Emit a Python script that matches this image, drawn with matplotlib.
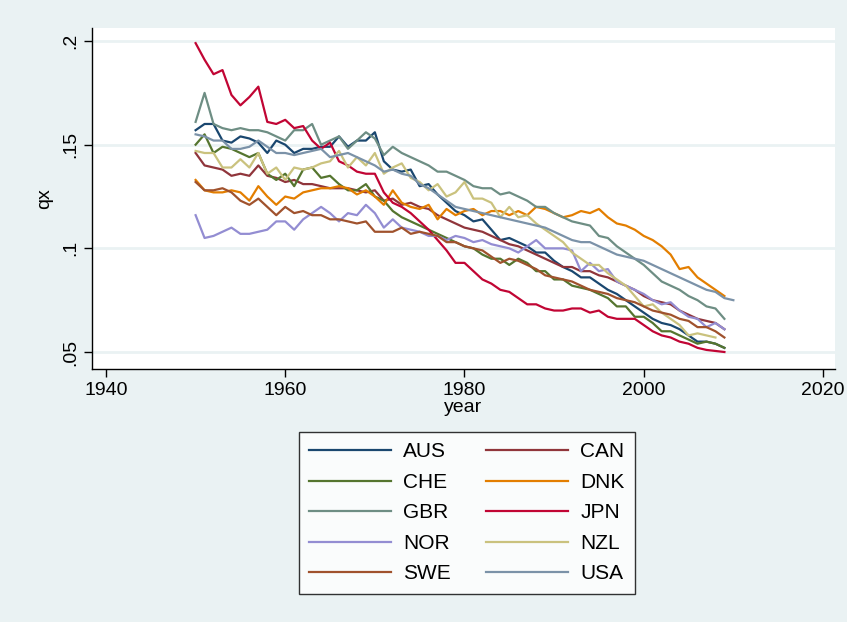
import numpy as np
import matplotlib.pyplot as plt

plt.rcParams['font.family'] = ['Liberation Sans', 'DejaVu Sans']

years = list(range(1950, 2010))
years_usa = list(range(1950, 2011))
years_nzl = list(range(1950, 2009))

aus = [0.157, 0.160, 0.160, 0.152, 0.151, 0.154, 0.153, 0.151, 0.146, 0.152,
       0.150, 0.146, 0.148, 0.148, 0.149, 0.149, 0.154, 0.149, 0.152, 0.152,
       0.156, 0.142, 0.138, 0.137, 0.138, 0.130, 0.131, 0.126, 0.122, 0.118,
       0.116, 0.113, 0.114, 0.109, 0.104, 0.105, 0.103, 0.101, 0.098, 0.098,
       0.094, 0.091, 0.089, 0.086, 0.086, 0.083, 0.080, 0.078, 0.075, 0.072,
       0.069, 0.066, 0.064, 0.063, 0.061, 0.058, 0.055, 0.055, 0.054, 0.052]
can = [0.146, 0.140, 0.139, 0.138, 0.135, 0.136, 0.135, 0.140, 0.135, 0.134,
       0.132, 0.133, 0.131, 0.131, 0.130, 0.129, 0.129, 0.129, 0.128, 0.127,
       0.128, 0.123, 0.124, 0.121, 0.122, 0.120, 0.119, 0.116, 0.114, 0.112,
       0.110, 0.109, 0.108, 0.106, 0.104, 0.102, 0.101, 0.099, 0.097, 0.095,
       0.093, 0.091, 0.091, 0.089, 0.089, 0.087, 0.086, 0.084, 0.082, 0.080,
       0.077, 0.075, 0.074, 0.073, 0.070, 0.068, 0.066, 0.065, 0.064, 0.061]
che = [0.150, 0.155, 0.146, 0.149, 0.148, 0.146, 0.144, 0.146, 0.136, 0.133,
       0.136, 0.130, 0.138, 0.139, 0.134, 0.135, 0.131, 0.128, 0.128, 0.131,
       0.125, 0.123, 0.118, 0.115, 0.113, 0.111, 0.109, 0.107, 0.105, 0.103,
       0.101, 0.100, 0.097, 0.095, 0.095, 0.092, 0.095, 0.093, 0.089, 0.089,
       0.085, 0.085, 0.082, 0.081, 0.080, 0.078, 0.076, 0.072, 0.072, 0.067,
       0.067, 0.064, 0.060, 0.060, 0.058, 0.056, 0.054, 0.055, 0.054, 0.052]
dnk = [0.133, 0.128, 0.127, 0.127, 0.128, 0.127, 0.123, 0.130, 0.125, 0.121,
       0.125, 0.124, 0.127, 0.128, 0.129, 0.129, 0.130, 0.129, 0.126, 0.128,
       0.125, 0.121, 0.128, 0.122, 0.120, 0.119, 0.121, 0.114, 0.119, 0.116,
       0.118, 0.119, 0.116, 0.118, 0.118, 0.116, 0.118, 0.116, 0.120, 0.119,
       0.117, 0.115, 0.116, 0.118, 0.117, 0.119, 0.115, 0.112, 0.111, 0.109,
       0.106, 0.104, 0.101, 0.097, 0.090, 0.091, 0.086, 0.083, 0.080, 0.077]
gbr = [0.161, 0.175, 0.160, 0.158, 0.157, 0.158, 0.157, 0.157, 0.156, 0.154,
       0.152, 0.157, 0.157, 0.160, 0.150, 0.152, 0.154, 0.148, 0.152, 0.156,
       0.153, 0.145, 0.149, 0.146, 0.144, 0.142, 0.140, 0.137, 0.137, 0.135,
       0.133, 0.130, 0.129, 0.129, 0.126, 0.127, 0.125, 0.123, 0.120, 0.120,
       0.117, 0.115, 0.113, 0.112, 0.111, 0.106, 0.105, 0.101, 0.098, 0.095,
       0.092, 0.088, 0.084, 0.082, 0.080, 0.077, 0.075, 0.072, 0.071, 0.066]
jpn = [0.199, 0.191, 0.184, 0.186, 0.174, 0.169, 0.173, 0.178, 0.161, 0.160,
       0.162, 0.158, 0.159, 0.152, 0.148, 0.151, 0.142, 0.140, 0.137, 0.136,
       0.136, 0.127, 0.122, 0.120, 0.117, 0.113, 0.109, 0.104, 0.099, 0.093,
       0.093, 0.089, 0.085, 0.083, 0.080, 0.079, 0.076, 0.073, 0.073, 0.071,
       0.070, 0.070, 0.071, 0.071, 0.069, 0.070, 0.067, 0.066, 0.066, 0.066,
       0.063, 0.060, 0.058, 0.057, 0.055, 0.054, 0.052, 0.051, 0.0505, 0.050]
nor = [0.116, 0.105, 0.106, 0.108, 0.110, 0.107, 0.107, 0.108, 0.109, 0.113,
       0.113, 0.109, 0.114, 0.117, 0.120, 0.117, 0.113, 0.117, 0.116, 0.121,
       0.117, 0.110, 0.114, 0.110, 0.109, 0.108, 0.106, 0.106, 0.104, 0.106,
       0.105, 0.103, 0.104, 0.102, 0.101, 0.100, 0.098, 0.101, 0.104, 0.100,
       0.100, 0.100, 0.099, 0.089, 0.093, 0.089, 0.090, 0.084, 0.082, 0.080,
       0.078, 0.075, 0.073, 0.074, 0.070, 0.067, 0.066, 0.062, 0.064, 0.061]
nzl = [0.147, 0.146, 0.146, 0.139, 0.139, 0.143, 0.139, 0.146, 0.136, 0.139,
       0.133, 0.139, 0.138, 0.139, 0.141, 0.142, 0.147, 0.139, 0.144, 0.140,
       0.146, 0.136, 0.139, 0.141, 0.134, 0.132, 0.128, 0.131, 0.125, 0.127,
       0.132, 0.124, 0.124, 0.122, 0.115, 0.120, 0.115, 0.116, 0.112, 0.109,
       0.106, 0.103, 0.098, 0.095, 0.092, 0.092, 0.088, 0.085, 0.082, 0.077,
       0.072, 0.073, 0.069, 0.066, 0.063, 0.058, 0.059, 0.058, 0.057]
swe = [0.132, 0.128, 0.128, 0.129, 0.127, 0.123, 0.121, 0.124, 0.120, 0.116,
       0.120, 0.117, 0.118, 0.116, 0.116, 0.114, 0.114, 0.113, 0.112, 0.113,
       0.108, 0.108, 0.108, 0.110, 0.107, 0.108, 0.107, 0.106, 0.103, 0.103,
       0.101, 0.100, 0.099, 0.096, 0.093, 0.095, 0.094, 0.092, 0.090, 0.087,
       0.086, 0.085, 0.084, 0.082, 0.080, 0.079, 0.078, 0.076, 0.075, 0.074,
       0.072, 0.070, 0.069, 0.068, 0.066, 0.065, 0.062, 0.062, 0.060, 0.057]
usa = [0.155, 0.154, 0.152, 0.152, 0.148, 0.148, 0.149, 0.152, 0.149, 0.146,
       0.146, 0.145, 0.146, 0.147, 0.148, 0.144, 0.145, 0.146, 0.144, 0.142,
       0.140, 0.137, 0.138, 0.136, 0.135, 0.131, 0.129, 0.126, 0.123, 0.120,
       0.119, 0.118, 0.117, 0.116, 0.115, 0.114, 0.113, 0.112, 0.111, 0.110,
       0.108, 0.106, 0.104, 0.103, 0.103, 0.101, 0.099, 0.097, 0.096, 0.095,
       0.094, 0.092, 0.090, 0.088, 0.086, 0.084, 0.082, 0.080, 0.079, 0.076,
       0.075]

series = [
    ('AUS', years, aus, '#1a476f'),
    ('CAN', years, can, '#90353b'),
    ('CHE', years, che, '#55752f'),
    ('DNK', years, dnk, '#e37e00'),
    ('GBR', years, gbr, '#6e8e84'),
    ('JPN', years, jpn, '#c10534'),
    ('NOR', years, nor, '#938dd2'),
    ('NZL', years_nzl, nzl, '#cac27e'),
    ('SWE', years, swe, '#a0522d'),
    ('USA', years_usa, usa, '#7b92a8'),
]

bg = '#eaf2f3'
fig = plt.figure(figsize=(8.47, 6.22), dpi=100, facecolor=bg)
ax = fig.add_axes([92 / 847, 1 - 369 / 622, (835 - 92) / 847, (369 - 28) / 622])
ax.set_facecolor('white')

handles = {}
for name, x, y, c in series:
    ln, = ax.plot(x, y, color=c, lw=1.6, label=name)
    handles[name] = ln

ax.set_xlim(1938.44, 2021.34)
ax.set_ylim(0.0418, 0.2063)
ax.set_xticks([1940, 1960, 1980, 2000, 2020])
ax.set_yticks([0.05, 0.1, 0.15, 0.2])
ax.set_yticklabels(['.05', '.1', '.15', '.2'], rotation=90, va='center')
ax.tick_params(labelsize=14, length=6, width=1, color='black')
ax.grid(axis='y', color=bg, lw=2)
ax.set_axisbelow(True)
for s in ['top', 'right']:
    ax.spines[s].set_visible(False)
for s in ['left', 'bottom']:
    ax.spines[s].set_linewidth(1)
ax.set_xlabel('year', fontsize=14, labelpad=0)
ax.set_ylabel('qx', fontsize=14, labelpad=6)

# legend: two columns, filled row by row like the original
order = ['AUS', 'CHE', 'GBR', 'NOR', 'SWE', 'CAN', 'DNK', 'JPN', 'NZL', 'USA']
leg = fig.legend([handles[n] for n in order], order, ncol=2,
                 loc='upper center', bbox_to_anchor=(467 / 847, 1 - 432 / 622),
                 fontsize=15, frameon=True, fancybox=False, edgecolor='black',
                 handlelength=3.9, handletextpad=0.6, columnspacing=1.7,
                 labelspacing=0.55, borderpad=0.5, borderaxespad=0)
leg.get_frame().set_linewidth(1)

fig.savefig('out.png', dpi=100, facecolor=bg)
